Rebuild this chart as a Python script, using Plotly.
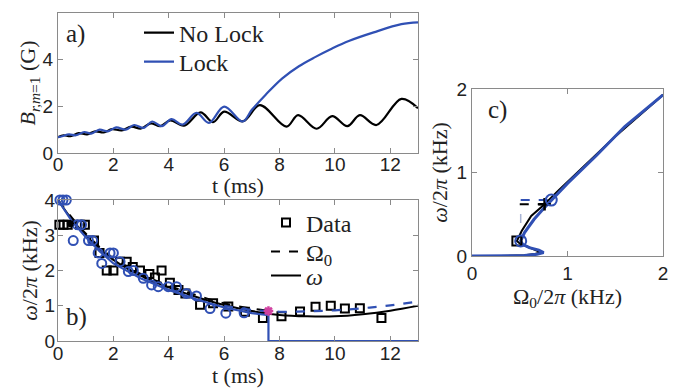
import plotly.graph_objects as go

BLUE = "#3050b4"
PINK = "#d040a0"

# ---------------- Panel a data ----------------
a_nolock_t = [0, 0.2, 0.45, 0.75, 1.05, 1.35, 1.65, 1.95, 2.3, 2.65, 3.0, 3.35, 3.7, 4.05, 4.55,
              5.15, 5.6, 6.0, 6.68, 7.29, 8.25, 8.67, 9.34, 9.9, 10.45, 10.9, 11.5, 12.4, 13.0]
a_nolock_v = [0.68, 0.76, 0.72, 0.85, 0.80, 0.93, 0.88, 1.02, 0.97, 1.13, 1.05, 1.27, 1.15, 1.40, 1.17,
              1.74, 1.32, 1.77, 1.36, 2.05, 1.13, 1.62, 1.04, 1.58, 1.15, 1.62, 1.20, 2.32, 1.92]
a_lock_t = [0, 0.15, 0.4, 0.65, 0.95, 1.2, 1.5, 1.8, 2.1, 2.45, 2.75, 3.1, 3.4, 3.75, 4.1, 4.5,
            5.0, 5.45, 6.0, 6.67, 7.0, 7.5, 8.1, 8.7, 9.3, 9.9, 10.5, 11.4, 12.4, 13.0]
a_lock_v = [0.68, 0.72, 0.80, 0.76, 0.90, 0.83, 1.00, 0.93, 1.10, 1.00, 1.20, 1.08, 1.35, 1.15, 1.45, 1.22,
            1.72, 1.29, 1.99, 1.35, 1.85, 2.5, 3.2, 3.72, 4.12, 4.48, 4.8, 5.17, 5.52, 5.6]

# ---------------- Panel b data ----------------
b_omega_nolock_t = [0, 0.5, 1, 1.5, 2, 3, 4, 5, 6, 7, 8, 9, 10, 11, 12, 13]
b_omega_nolock_v = [4.0, 3.45, 3.0, 2.62, 2.3, 1.85, 1.52, 1.25, 1.02, 0.85, 0.74, 0.70, 0.70, 0.76, 0.86, 1.0]
b_Omega0_nolock_t = [0, 0.5, 1, 1.5, 2, 3, 4, 5, 6, 7, 7.6]
b_Omega0_nolock_v = [4.0, 3.5, 3.05, 2.67, 2.35, 1.9, 1.57, 1.3, 1.07, 0.92, 0.86]
b_omega_lock_t = [0, 0.5, 1, 1.5, 2, 3, 4, 5, 6, 7, 7.6, 7.6, 13]
b_omega_lock_v = [4.0, 3.4, 2.95, 2.55, 2.2, 1.77, 1.45, 1.18, 0.95, 0.79, 0.73, 0, 0]
b_Omega0_lock_t = [6.0, 7.0, 7.6, 8, 9, 10, 11, 12, 13]
b_Omega0_lock_v = [1.0, 0.88, 0.85, 0.83, 0.84, 0.87, 0.93, 1.01, 1.12]

sq_t = [0.05, 0.2, 0.35, 0.8, 0.97, 1.3, 1.5, 1.76, 2.0, 2.24, 2.48, 2.7, 2.96, 3.3, 3.5, 3.74,
        4.04, 4.35, 4.6, 5.13, 5.6, 6.15, 6.75, 7.4, 8.07, 8.74, 9.3, 9.85, 10.36, 10.9, 11.68]
sq_v = [3.3, 3.3, 3.3, 3.3, 3.3, 2.85, 2.5, 2.0, 2.0, 2.25, 2.25, 2.1, 2.0, 1.9, 1.8, 2.0,
        1.65, 1.45, 1.35, 1.03, 1.07, 0.98, 0.83, 0.65, 0.7, 0.84, 0.97, 1.0, 0.92, 0.93, 0.65]
circ_t = [0.07, 0.18, 0.3, 0.55, 0.7, 0.85, 1.1, 1.25, 1.45, 1.58, 1.88, 2.0, 2.24, 2.54, 2.72,
          3.08, 3.38, 3.62, 3.98, 4.28, 4.64, 5.0, 5.49, 6.06, 6.72]
circ_v = [4.0, 4.0, 4.0, 2.85, 3.3, 3.3, 2.85, 2.85, 2.5, 2.2, 2.5, 2.5, 2.25, 1.97, 2.0,
          1.78, 1.59, 1.54, 1.54, 1.54, 1.35, 1.28, 0.92, 0.79, 0.8]
star_lock_t = [7.6]
star_lock_v = [0.85]
star_nolock_t = [0.45]
star_nolock_v = [3.33]

# ---------------- Panel c data ----------------
c_nolock_W = [0, 0.3, 0.55, 0.66, 0.72, 0.65, 0.56, 0.5, 0.47, 0.52, 0.62, 0.76, 0.9, 1.2, 1.5, 2.0]
c_nolock_w = [0, 0.0, 0.01, 0.025, 0.045, 0.08, 0.12, 0.15, 0.18, 0.3, 0.48, 0.62, 0.78, 1.1, 1.43, 1.93]
c_lock_W = [0, 0.3, 0.55, 0.68, 0.75, 0.7, 0.6, 0.53, 0.51, 0.55, 0.65, 0.75, 0.83, 1.0, 1.3, 1.6, 2.0]
c_lock_w = [0, 0.0, 0.005, 0.02, 0.04, 0.07, 0.1, 0.14, 0.18, 0.28, 0.44, 0.57, 0.67, 0.87, 1.2, 1.55, 1.93]
c_jump_nolock_W = [0.5, 0.76]
c_jump_nolock_w = [0.62, 0.62]
c_jump_lock_W = [0.51, 0.83]
c_jump_lock_w = [0.67, 0.67]
c_vert_W = [0.51, 0.51]
c_vert_w = [0.18, 0.62]
c_sq_W = [0.47]
c_sq_w = [0.18]
c_plus_W = [0.76]
c_plus_w = [0.62]
c_circ_W = [0.51, 0.83]
c_circ_w = [0.18, 0.67]

# Page body has an 8px margin; figure sized to fit the window
OFF = 8
W, H = 697 - OFF, 392 - OFF


def xp(X):
    return (X - OFF) / W


def yp(Y):
    return 1 - (Y - OFF) / H


SERIF = "Liberation Serif"
SANS = "Liberation Sans"
LEG_FONT = dict(family=SERIF, size=24, color="#222")

fig = go.Figure()

# Panel a
fig.add_trace(go.Scatter(x=a_nolock_t, y=a_nolock_v, mode="lines", name="No Lock",
                         line=dict(color="black", width=2.2, shape="spline"),
                         xaxis="x", yaxis="y", legend="legend"))
fig.add_trace(go.Scatter(x=a_lock_t, y=a_lock_v, mode="lines", name="Lock",
                         line=dict(color=BLUE, width=2.2, shape="spline"),
                         xaxis="x", yaxis="y", legend="legend2"))

# Panel b
fig.add_trace(go.Scatter(x=sq_t, y=sq_v, mode="markers", name="Data",
                         marker=dict(symbol="square-open", size=8, color="black", line=dict(width=2)),
                         xaxis="x2", yaxis="y2", legend="legend3", cliponaxis=False))
fig.add_trace(go.Scatter(x=b_Omega0_nolock_t, y=b_Omega0_nolock_v, mode="lines", name="Ω<sub>0</sub>",
                         line=dict(color="black", width=2, dash="dash", shape="spline"),
                         xaxis="x2", yaxis="y2", legend="legend4"))
fig.add_trace(go.Scatter(x=b_omega_nolock_t, y=b_omega_nolock_v, mode="lines", name="<i>ω</i>",
                         line=dict(color="black", width=2, shape="spline"),
                         xaxis="x2", yaxis="y2", legend="legend5"))
fig.add_trace(go.Scatter(x=circ_t, y=circ_v, mode="markers", showlegend=False,
                         marker=dict(symbol="circle-open", size=9, color=BLUE, line=dict(width=2)),
                         xaxis="x2", yaxis="y2", cliponaxis=False))
fig.add_trace(go.Scatter(x=b_Omega0_lock_t, y=b_Omega0_lock_v, mode="lines", showlegend=False,
                         line=dict(color=BLUE, width=2.2, dash="dash", shape="spline"),
                         xaxis="x2", yaxis="y2"))
fig.add_trace(go.Scatter(x=b_omega_lock_t, y=b_omega_lock_v, mode="lines", showlegend=False,
                         line=dict(color=BLUE, width=2.2),
                         xaxis="x2", yaxis="y2"))
fig.add_trace(go.Scatter(x=star_lock_t, y=star_lock_v, mode="markers", showlegend=False,
                         marker=dict(symbol="asterisk-open", size=8, color=PINK, line=dict(width=2.5, color=PINK)),
                         xaxis="x2", yaxis="y2", cliponaxis=False))
fig.add_trace(go.Scatter(x=star_nolock_t, y=star_nolock_v, mode="markers", showlegend=False,
                         marker=dict(symbol="asterisk-open", size=6, color="black", line=dict(width=2, color="black")),
                         xaxis="x2", yaxis="y2", cliponaxis=False))

# Panel c
fig.add_trace(go.Scatter(x=c_vert_W, y=c_vert_w, mode="lines", showlegend=False,
                         line=dict(color="#a8b4d4", width=1.5, dash="dash"), xaxis="x3", yaxis="y3"))
fig.add_trace(go.Scatter(x=c_jump_nolock_W, y=c_jump_nolock_w, mode="lines", showlegend=False,
                         line=dict(color="black", width=2, dash="dash"), xaxis="x3", yaxis="y3"))
fig.add_trace(go.Scatter(x=c_jump_lock_W, y=c_jump_lock_w, mode="lines", showlegend=False,
                         line=dict(color=BLUE, width=2, dash="dash"), xaxis="x3", yaxis="y3"))
fig.add_trace(go.Scatter(x=c_nolock_W, y=c_nolock_w, mode="lines", showlegend=False,
                         line=dict(color="black", width=2), xaxis="x3", yaxis="y3"))
fig.add_trace(go.Scatter(x=c_lock_W, y=c_lock_w, mode="lines", showlegend=False,
                         line=dict(color=BLUE, width=3), xaxis="x3", yaxis="y3"))
fig.add_trace(go.Scatter(x=c_sq_W, y=c_sq_w, mode="markers", showlegend=False,
                         marker=dict(symbol="square-open", size=9, color="black", line=dict(width=2)),
                         xaxis="x3", yaxis="y3", cliponaxis=False))
fig.add_trace(go.Scatter(x=c_plus_W, y=c_plus_w, mode="markers", showlegend=False,
                         marker=dict(symbol="cross-thin-open", size=9, color="black", line=dict(width=2.5, color="black")),
                         xaxis="x3", yaxis="y3", cliponaxis=False))
fig.add_trace(go.Scatter(x=c_circ_W, y=c_circ_w, mode="markers", showlegend=False,
                         marker=dict(symbol="circle-open", size=11, color=BLUE, line=dict(width=2)),
                         xaxis="x3", yaxis="y3", cliponaxis=False))

axis_common = dict(showline=True, linecolor="#8a8a8a", linewidth=1, mirror="ticks",
                   ticks="inside", ticklen=5, tickcolor="#8a8a8a", showgrid=False, zeroline=False,
                   automargin=False,
                   tickfont=dict(family=SANS, size=19, color="#222"))
title_font = dict(family=SERIF, size=22, color="#222")


def leg(X, Y):
    return dict(x=xp(X), y=yp(Y), xanchor="left", yanchor="middle", bgcolor="rgba(0,0,0,0)",
                font=LEG_FONT, borderwidth=0)


def label(text, X, Y, size=25, xanchor="left"):
    return dict(text=text, x=xp(X), y=yp(Y), xref="paper", yref="paper", xanchor=xanchor, yanchor="middle",
                showarrow=False, font=dict(family=SERIF, size=size, color="#222"))


fig.update_layout(
    width=W, height=H, autosize=False,
    margin=dict(l=0, r=0, t=0, b=0),
    paper_bgcolor="white", plot_bgcolor="white",
    xaxis=dict(domain=[xp(58), xp(418)], anchor="y", range=[0, 13], tickvals=[0, 2, 4, 6, 8, 10, 12],
               ticklabelstandoff=-6, **axis_common),
    yaxis=dict(domain=[yp(153), yp(13)], anchor="x", range=[0, 6], tickvals=[0, 2, 4, 6],
               title=dict(text="<i>B</i><sub><i>r,m</i>=1</sub> (G)", font=title_font, standoff=0), **axis_common),
    xaxis2=dict(domain=[xp(58), xp(418)], anchor="y2", range=[0, 13], tickvals=[0, 2, 4, 6, 8, 10, 12],
                ticklabelstandoff=-5, **axis_common),
    yaxis2=dict(domain=[yp(341), yp(200)], anchor="x2", range=[0, 4], tickvals=[0, 1, 2, 3, 4],
                ticklabelstandoff=-2,
                title=dict(text="<i>ω</i>/2<i>π</i> (kHz)", font=title_font, standoff=0), **axis_common),
    xaxis3=dict(domain=[xp(472), xp(663)], anchor="y3", range=[0, 2], tickvals=[0, 1, 2],
                title=dict(text="Ω<sub>0</sub>/2<i>π</i> (kHz)", font=title_font, standoff=4), **axis_common),
    yaxis3=dict(domain=[yp(256), yp(89)], anchor="x3", range=[0, 2], tickvals=[0, 1, 2],
                title=dict(text="<i>ω</i>/2<i>π</i> (kHz)", font=title_font, standoff=2), **axis_common),
    legend=leg(139, 33),
    legend2=leg(139, 62),
    legend3=leg(266, 223),
    legend4=leg(266, 252),
    legend5=leg(266, 276),
    annotations=[
        label("a)", 64, 34),
        label("b)", 64, 317),
        label("c)", 486, 110),
        label("t (ms)", 238, 185, size=22, xanchor="center"),
        label("t (ms)", 238, 375, size=22, xanchor="center"),
    ],
)

fig.write_html("out.html")
